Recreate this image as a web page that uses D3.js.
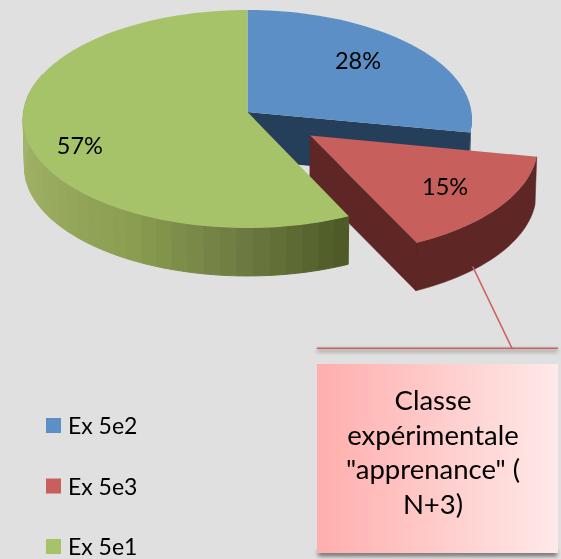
<!DOCTYPE html>
<html><head><meta charset="utf-8">
<script src="https://cdn.jsdelivr.net/npm/d3@7"></script>
<style>html,body{margin:0;padding:0;background:#e0e0e0;overflow:hidden}svg{display:block;filter:blur(0.35px)}text{font-family:Lato,Carlito,sans-serif;fill:#000}</style>
</head><body><svg id="c" width="561" height="559"></svg>
<script>
const categories = ["Ex 5e2", "Ex 5e3", "Ex 5e1"];
const values = [28, 15, 57];
const valueLabels = ["28%", "15%", "57%"];
const topColors = ["#5b8fc5", "#c75f5c", "#a7c36a"];
const wallColors = ["#253f5a", "#5e2725", "#6e7c42"];
const explode = [0, 0.349, 0];
const labelRadius = [0.706, 0.725, 0.795];
const labelTurn = [-4.3, 0.5, -10];
const calloutLines = ["Classe", "expérimentale", "\"apprenance\" (", "N+3)"];

const cx = 247.5, cy = 112, rx = 224, ry = 108.5, k = 0.0642, depth = 48, depthScale = 0.994;
const svg = d3.select("#c");
const defs = svg.append("defs");
const grad = defs.append("linearGradient").attr("id", "box");
grad.append("stop").attr("offset", 0).attr("stop-color", "#ffaeac");
grad.append("stop").attr("offset", 1).attr("stop-color", "#ffe9e9");
defs.append("filter").attr("id", "blur").attr("x", "-10%").attr("y", "-200%").attr("width", "120%").attr("height", "500%")
  .append("feGaussianBlur").attr("stdDeviation", 2);

svg.append("rect").attr("width", 561).attr("height", 559).attr("fill", "#e0e0e0");

const arcs = d3.pie().sort(null).value(d => d)(values);
const line = d3.line();
const step = Math.PI / 90;

function project(a, r, off, low) {
  const u = off.u + r * Math.sin(a), v = off.v - r * Math.cos(a), w = 1 - k * v;
  const s = low ? depthScale : 1;
  return [cx + s * rx * u / w, cy + ry * v / w + (low ? depth : 0)];
}
function offset(i) {
  const mid = (arcs[i].startAngle + arcs[i].endAngle) / 2;
  return { u: explode[i] * Math.sin(mid), v: -explode[i] * Math.cos(mid) };
}
function angles(a0, a1) {
  const n = Math.max(2, Math.ceil((a1 - a0) / step));
  return d3.range(n + 1).map(i => a0 + (a1 - a0) * i / n);
}
function topPath(i) {
  const o = offset(i), d = arcs[i];
  return line([project(0, 0, o, false), ...angles(d.startAngle, d.endAngle).map(a => project(a, 1, o, false))]) + "Z";
}
function radialWall(i, a) {
  const o = offset(i);
  return line([project(a, 0, o, false), project(a, 1, o, false), project(a, 1, o, true), project(a, 0, o, true)]) + "Z";
}
function rimPath(i, a0, a1) {
  const o = offset(i), as = angles(a0, a1);
  return line([...as.map(a => project(a, 1, o, false)), ...as.slice().reverse().map(a => project(a, 1, o, true))]) + "Z";
}

// blue slice
svg.append("path").attr("d", radialWall(0, arcs[0].endAngle)).attr("fill", wallColors[0]);
svg.append("path").attr("d", rimPath(0, Math.PI / 2, arcs[0].endAngle)).attr("fill", wallColors[0]);
svg.append("path").attr("d", topPath(0)).attr("fill", topColors[0]);

// red slice
svg.append("path").attr("d", radialWall(1, arcs[1].endAngle) + rimPath(1, arcs[1].startAngle, arcs[1].endAngle))
  .attr("fill", wallColors[1]).attr("stroke", wallColors[1]).attr("stroke-width", 0.5);
svg.append("path").attr("d", topPath(1)).attr("fill", topColors[1]);

// green slice: banded rim
const rimShade = d3.scaleLinear()
  .domain([arcs[2].startAngle, Math.PI, 3.61, 4.19, 4.71])
  .range(["#4e5a27", "#6e7c42", "#8a9d50", "#99ac60", "#a3b56a"]).clamp(true);
const bands = d3.range(arcs[2].startAngle, 1.6 * Math.PI, Math.PI / 45);
svg.append("g").selectAll("path").data(bands).join("path")
  .attr("d", a => rimPath(2, a, a + Math.PI / 45))
  .attr("fill", a => rimShade(a)).attr("stroke", a => rimShade(a)).attr("stroke-width", 1);
svg.append("path").attr("d", topPath(2)).attr("fill", topColors[2]);

// value labels
svg.append("g").selectAll("text").data(arcs).join("text")
  .attr("text-anchor", "middle").attr("font-size", 23.5)
  .attr("x", (d, i) => project((d.startAngle + d.endAngle) / 2 + labelTurn[i] * Math.PI / 180, labelRadius[i], offset(i), false)[0])
  .attr("y", (d, i) => project((d.startAngle + d.endAngle) / 2 + labelTurn[i] * Math.PI / 180, labelRadius[i], offset(i), false)[1] + 8)
  .text((d, i) => valueLabels[i]);

// legend
const legendY = d3.scalePoint().domain(categories).range([425.5, 546.5]);
const legend = svg.append("g").selectAll("g").data(categories).join("g")
  .attr("transform", d => `translate(46,${legendY(d)})`);
legend.append("rect").attr("y", -7.5).attr("width", 15).attr("height", 15).attr("fill", (d, i) => topColors[i]);
legend.append("text").attr("x", 22).attr("y", 8.5).attr("font-size", 23).text(d => d);

// callout
const boxX = 317, boxY = 364, boxW = 241, boxH = 189;
svg.append("rect").attr("x", boxX + 1).attr("y", boxY + boxH - 2).attr("width", boxW - 2).attr("height", 5)
  .attr("fill", "#000").attr("opacity", 0.55).attr("filter", "url(#blur)");
svg.append("rect").attr("x", boxX).attr("y", boxY).attr("width", boxW).attr("height", boxH).attr("fill", "url(#box)");
svg.append("g").selectAll("text").data(calloutLines).join("text")
  .attr("x", 433).attr("y", (d, i) => 410 + i * 34.6).attr("text-anchor", "middle").attr("font-size", 27.5).text(d => d);

svg.append("rect").attr("x", boxX).attr("y", 349).attr("width", boxW).attr("height", 3)
  .attr("fill", "#000").attr("opacity", 0.3).attr("filter", "url(#blur)");
const leader = svg.append("g").attr("stroke", "#cb625e").attr("stroke-width", 1.5).attr("fill", "none");
leader.append("path").attr("d", line([[472.7, 266.7], [512, 348.3]]));
leader.append("path").attr("d", line([[boxX, 348.3], [boxX + boxW, 348.3]]));
</script></body></html>
